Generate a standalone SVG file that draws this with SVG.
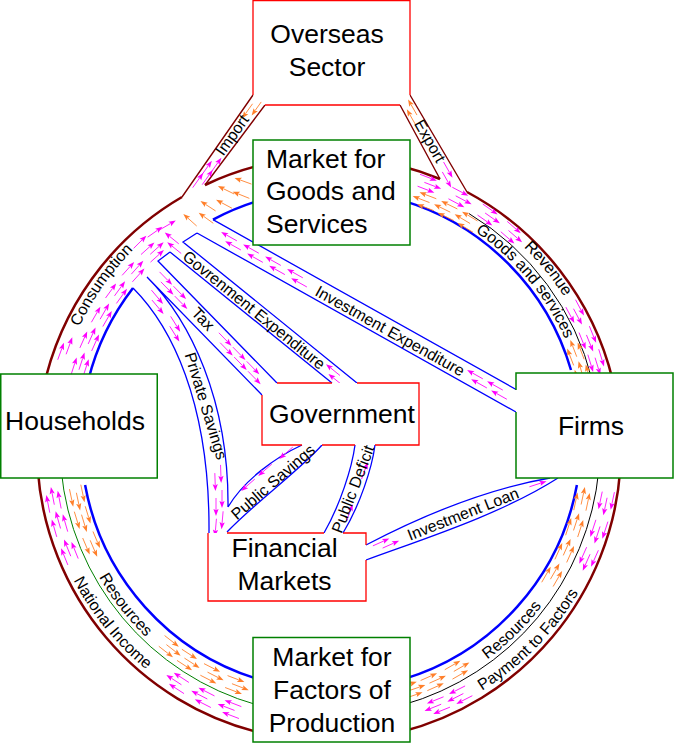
<svg xmlns="http://www.w3.org/2000/svg" xmlns:xlink="http://www.w3.org/1999/xlink" width="674" height="743" viewBox="0 0 674 743">
<style>
.nt{font-family:"Liberation Sans",Arial,sans-serif;font-size:26.5px;fill:#000}
.lb{font-family:"Liberation Sans",Arial,sans-serif;font-size:16px;fill:#000}
.wf{fill:#fff;stroke:none}
.gb{fill:#fff;stroke:#008000;stroke-width:1.5}
.rb{fill:none;stroke:#f00;stroke-width:1.3}
.mr{fill:none;stroke:#800000;stroke-width:2.5}
.mb{fill:none;stroke:#800000;stroke-width:1.4}
.br{fill:none;stroke:#00f;stroke-width:2.5}
.bb{fill:none;stroke:#00f;stroke-width:1.3}
.kl{fill:none;stroke:#000;stroke-width:1}
.gl{fill:none;stroke:#008000;stroke-width:1}
</style>
<defs>
<g id="m"><path d="M-9,0H3" stroke="#f0f" stroke-width=".8"/><path d="M9,0 2,-2.6 3.3,0 2,2.6z" fill="#f0f"/></g>
<g id="o"><path d="M-9,0H3" stroke="#ff7f2a" stroke-width=".8"/><path d="M9,0 2,-2.6 3.3,0 2,2.6z" fill="#ff7f2a"/></g>
<g id="mp"><use xlink:href="#m" x="-4" y="-3"/><use xlink:href="#m" x="4" y="3"/></g>
<g id="op"><use xlink:href="#o" x="-4" y="-3"/><use xlink:href="#o" x="4" y="3"/></g>
<g id="m3"><use xlink:href="#m" x="-4" y="-6"/><use xlink:href="#m" x="3"/><use xlink:href="#m" x="-2" y="6"/></g>
<g id="o3"><use xlink:href="#o" x="-4" y="-6"/><use xlink:href="#o" x="3"/><use xlink:href="#o" x="-2" y="6"/></g>
<path id="pC" d="M69.7,350.3A277,277 0 0 1 151.9,232.8"/>
<path id="pR" d="M508.1,232.8A277,277 0 0 1 574.6,314.9"/>
<path id="pG" d="M466.7,226.2A258,258 0 0 1 569.2,348.4"/>
<path id="pR2" d="M478.7,665.5A266,266 0 0 0 547.9,597.6"/>
<path id="pP" d="M465.7,700.2A289,289 0 0 0 587.5,576.2"/>
<path id="pR3" d="M95.1,569.9A266,266 0 0 0 152,642.7"/>
<path id="pN" d="M74,581.2A290,290 0 0 0 145.5,668.8"/>
</defs>
<g id="connectors">
<path class="mr" d="M43,390A292,292 0 0 1 182,197M205,185A292,292 0 0 1 260,165.3M400,165.8A292,292 0 0 1 440,179M467,192A292,292 0 0 1 612.7,380M620.2,470A292,292 0 0 1 400,732.2M260,732.7A292,292 0 0 1 37.8,470"/>
<path class="br" d="M88.3,380A250,250 0 0 1 133,288M213,219.6A250,250 0 0 1 260,200.3M403,200.6A250,250 0 0 1 571,370M576.9,485A250,250 0 0 1 403,679.4M260,679.7A250,250 0 0 1 85.1,485"/>
<path class="kl" d="M469,213.6A270,270 0 0 1 592.1,380M598.8,470A270,270 0 0 1 403,704.9"/>
<path class="gl" d="M257,704.9A270,270 0 0 1 61.2,470"/>
<path class="mb" d="M182,197L253,95M205,185L265,105M400,105L440,179M410,95L467,192"/>
<path class="bb" d="M213,219.6L517,390M197,233L516,412M197,233L183,242L357,383M170,252L332,383M170,252L158,261L277,383M147,277L262,395M133,288C170,325 210,400 209,533M147,277C190,320 229,400 228,507M302,445C276,457 244,480 228,507M322,445C300,470 258,500 227,532M355,445C352,468 340,505 324,533M375,445C372,468 360,505 343,533M366,545C410,522 480,490 550,478M366,560C420,540 500,515 558,478"/>
<g id="ring-arrows">
<use xlink:href="#m3" transform="rotate(291 330 445) translate(609 445) rotate(90)"/>
<use xlink:href="#m3" transform="rotate(298 330 445) translate(609 445) rotate(90)"/>
<use xlink:href="#m3" transform="rotate(305 330 445) translate(609 445) rotate(90)"/>
<use xlink:href="#m3" transform="rotate(311 330 445) translate(609 445) rotate(90)"/>
<use xlink:href="#m3" transform="rotate(332 330 445) translate(609 445) rotate(90)"/>
<use xlink:href="#m3" transform="rotate(338 330 445) translate(609 445) rotate(90)"/>
<use xlink:href="#m3" transform="rotate(343 330 445) translate(609 445) rotate(90)"/>
<use xlink:href="#o3" transform="rotate(291 330 445) translate(592 445) rotate(-90)"/>
<use xlink:href="#o3" transform="rotate(296 330 445) translate(592 445) rotate(-90)"/>
<use xlink:href="#o3" transform="rotate(301 330 445) translate(592 445) rotate(-90)"/>
<use xlink:href="#o3" transform="rotate(339 330 445) translate(592 445) rotate(-90)"/>
<use xlink:href="#o3" transform="rotate(344 330 445) translate(592 445) rotate(-90)"/>
<use xlink:href="#m3" transform="rotate(12 330 445) translate(612 445) rotate(90)"/>
<use xlink:href="#m3" transform="rotate(18 330 445) translate(612 445) rotate(90)"/>
<use xlink:href="#m3" transform="rotate(24 330 445) translate(612 445) rotate(90)"/>
<use xlink:href="#m3" transform="rotate(63 330 445) translate(612 445) rotate(90)"/>
<use xlink:href="#m3" transform="rotate(68 330 445) translate(612 445) rotate(90)"/>
<use xlink:href="#o3" transform="rotate(12 330 445) translate(588 445) rotate(-90)"/>
<use xlink:href="#o3" transform="rotate(18 330 445) translate(588 445) rotate(-90)"/>
<use xlink:href="#o3" transform="rotate(24 330 445) translate(588 445) rotate(-90)"/>
<use xlink:href="#o3" transform="rotate(30 330 445) translate(588 445) rotate(-90)"/>
<use xlink:href="#o3" transform="rotate(60 330 445) translate(588 445) rotate(-90)"/>
<use xlink:href="#o3" transform="rotate(66 330 445) translate(588 445) rotate(-90)"/>
<use xlink:href="#o3" transform="rotate(71 330 445) translate(588 445) rotate(-90)"/>
<use xlink:href="#m3" transform="rotate(111 330 445) translate(612 445) rotate(90)"/>
<use xlink:href="#m3" transform="rotate(117 330 445) translate(612 445) rotate(90)"/>
<use xlink:href="#m3" transform="rotate(123 330 445) translate(612 445) rotate(90)"/>
<use xlink:href="#m3" transform="rotate(158 330 445) translate(612 445) rotate(90)"/>
<use xlink:href="#m3" transform="rotate(164 330 445) translate(612 445) rotate(90)"/>
<use xlink:href="#m3" transform="rotate(169 330 445) translate(612 445) rotate(90)"/>
<use xlink:href="#o3" transform="rotate(111 330 445) translate(588 445) rotate(-90)"/>
<use xlink:href="#o3" transform="rotate(117 330 445) translate(588 445) rotate(-90)"/>
<use xlink:href="#o3" transform="rotate(123 330 445) translate(588 445) rotate(-90)"/>
<use xlink:href="#o3" transform="rotate(128 330 445) translate(588 445) rotate(-90)"/>
<use xlink:href="#o3" transform="rotate(157 330 445) translate(588 445) rotate(-90)"/>
<use xlink:href="#o3" transform="rotate(163 330 445) translate(588 445) rotate(-90)"/>
<use xlink:href="#o3" transform="rotate(168 330 445) translate(588 445) rotate(-90)"/>
<use xlink:href="#m3" transform="rotate(198 330 445) translate(592 445) rotate(90)"/>
<use xlink:href="#m3" transform="rotate(204 330 445) translate(592 445) rotate(90)"/>
<use xlink:href="#m3" transform="rotate(210 330 445) translate(592 445) rotate(90)"/>
<use xlink:href="#m3" transform="rotate(216 330 445) translate(592 445) rotate(90)"/>
<use xlink:href="#m3" transform="rotate(222 330 445) translate(592 445) rotate(90)"/>
<use xlink:href="#m3" transform="rotate(228 330 445) translate(592 445) rotate(90)"/>
<use xlink:href="#mp" transform="rotate(200 330 445) translate(612 445) rotate(90)"/>
</g>
<g id="junction-arrows">
<use xlink:href="#o" transform="translate(243 181) rotate(200)"/>
<use xlink:href="#o" transform="translate(241 195) rotate(202)"/>
<use xlink:href="#o" transform="translate(226 190) rotate(206)"/>
<use xlink:href="#o" transform="translate(224 204) rotate(208)"/>
<use xlink:href="#o" transform="translate(208 206) rotate(213)"/>
<use xlink:href="#o" transform="translate(206 218) rotate(216)"/>
<use xlink:href="#o" transform="translate(190 220) rotate(222)"/>
<use xlink:href="#m" transform="translate(140 242) rotate(-45)"/>
<use xlink:href="#m" transform="translate(155 232) rotate(-35)"/>
<use xlink:href="#m" transform="translate(168 225) rotate(-30)"/>
</g>
<g id="band-arrows">
<use xlink:href="#mp" transform="translate(202.7 178.8) rotate(-54.5)"/>
<use xlink:href="#mp" transform="translate(211.4 166.6) rotate(-54.5)"/>
<use xlink:href="#op" transform="translate(252.1 109.6) rotate(125.5)"/>
<use xlink:href="#op" transform="translate(411.9 112.2) rotate(240.4)"/>
<use xlink:href="#mp" transform="translate(447.4 174.8) rotate(60.4)"/>
<use xlink:href="#mp" transform="translate(231 241) rotate(209.3)"/>
<use xlink:href="#mp" transform="translate(253 253.4) rotate(209.3)"/>
<use xlink:href="#mp" transform="translate(275 265.6) rotate(209.3)"/>
<use xlink:href="#mp" transform="translate(297 278) rotate(209.3)"/>
<use xlink:href="#mp" transform="translate(477 379) rotate(209.3)"/>
<use xlink:href="#mp" transform="translate(497 390.3) rotate(209.3)"/>
<use xlink:href="#mp" transform="translate(334.2 374.7) rotate(219)"/>
<use xlink:href="#mp" transform="translate(173 243) rotate(219)"/>
<use xlink:href="#mp" transform="translate(166.5 283.3) rotate(45.7)"/>
<use xlink:href="#mp" transform="translate(180.4 297.6) rotate(45.7)"/>
<use xlink:href="#mp" transform="translate(225.8 344.2) rotate(45.7)"/>
<use xlink:href="#mp" transform="translate(239.8 358.5) rotate(45.7)"/>
<use xlink:href="#mp" transform="translate(253.7 372.8) rotate(45.7)"/>
<use xlink:href="#mp" transform="translate(157.5 302) rotate(50)"/>
<use xlink:href="#mp" transform="translate(175 329) rotate(58)"/>
<use xlink:href="#mp" transform="translate(218 478) rotate(88)"/>
<use xlink:href="#mp" transform="translate(219 503) rotate(90)"/>
<use xlink:href="#mp" transform="translate(219 524) rotate(95)"/>
<use xlink:href="#m" transform="translate(265 470) rotate(139)"/>
<use xlink:href="#m" transform="translate(286 453) rotate(139)"/>
<use xlink:href="#m" transform="translate(248 485) rotate(139)"/>
<use xlink:href="#m" transform="translate(364.6 470.7) rotate(-70)"/>
<use xlink:href="#m" transform="translate(349.6 512.6) rotate(-70)"/>
<use xlink:href="#mp" transform="translate(386 543.3) rotate(-24)"/>
<use xlink:href="#m" transform="translate(538 484) rotate(-18)"/>
</g>
<g id="connector-labels" class="lb">
<text text-anchor="middle" transform="translate(232 135) rotate(-54.5)" y="5.5">Import</text>
<text text-anchor="middle" transform="translate(430 141) rotate(60.4)" y="5.5">Export</text>
<text text-anchor="middle" transform="translate(390 331) rotate(29.2)" y="5.5">Investment Expenditure</text>
<text text-anchor="middle" transform="translate(254 310) rotate(39)" y="5.5">Govrenment Expenditure</text>
<text text-anchor="middle" transform="translate(203 319) rotate(46)" y="5.5">Tax</text>
<text text-anchor="middle" transform="translate(206 406) rotate(73)" y="5.5">Private Savings</text>
<text text-anchor="middle" transform="translate(273 482) rotate(-41)" y="5.5">Public Savings</text>
<text text-anchor="middle" transform="translate(353 489) rotate(-69)" y="5.5">Public Deficit</text>
<text text-anchor="middle" transform="translate(463 514) rotate(-21.5)" y="5.5">Investment Loan</text>
<text><textPath xlink:href="#pC" startOffset="50%" text-anchor="middle">Consumption</textPath></text>
<text><textPath xlink:href="#pR" startOffset="50%" text-anchor="middle">Revenue</textPath></text>
<text><textPath xlink:href="#pG" startOffset="50%" text-anchor="middle">Goods and services</textPath></text>
<text><textPath xlink:href="#pR2" startOffset="50%" text-anchor="middle">Resources</textPath></text>
<text><textPath xlink:href="#pP" startOffset="50%" text-anchor="middle">Payment to Factors</textPath></text>
<text><textPath xlink:href="#pR3" startOffset="50%" text-anchor="middle">Resources</textPath></text>
<text><textPath xlink:href="#pN" startOffset="50%" text-anchor="middle">National Income</textPath></text>
</g>
</g>
<g id="overseas-sector">
<path class="wf" d="M253,0H410V95L400,105H265L253,95Z"/>
<path class="rb" d="M253,95V0.7H410V95M265,105H400"/>
<text class="nt" text-anchor="middle"><tspan x="327" y="43">Overseas</tspan><tspan x="327" y="76">Sector</tspan></text>
</g>
<g id="goods-market">
<rect class="gb" x="253" y="140" width="157" height="105"/>
<text class="nt"><tspan x="266" y="167.5">Market for</tspan><tspan x="266" y="200">Goods and</tspan><tspan x="266" y="233">Services</tspan></text>
</g>
<g id="households">
<rect class="gb" x="0.75" y="374" width="156.5" height="104"/>
<text class="nt" x="75" y="430" text-anchor="middle">Households</text>
</g>
<g id="firms">
<rect class="wf" x="516" y="373" width="157" height="105"/>
<path d="M516,390V373H673V478H516V412" fill="none" stroke="#008000" stroke-width="1.5"/>
<text class="nt" x="591" y="435" text-anchor="middle">Firms</text>
</g>
<g id="government">
<path class="wf" d="M277,383H419V445H262V395Z"/>
<path class="rb" d="M277,383H332M357,383H419V445H375M355,445H322M302,445H262V395"/>
<text class="nt" x="342" y="423" text-anchor="middle">Government</text>
</g>
<g id="financial-markets">
<rect class="wf" x="208" y="533" width="158" height="68"/>
<path class="rb" d="M227,533H324M343,533H366V545M366,560V601H208V533"/>
<text class="nt" text-anchor="middle"><tspan x="284.5" y="557">Financial</tspan><tspan x="284.5" y="590">Markets</tspan></text>
</g>
<g id="factors-market">
<rect class="gb" x="253" y="637.5" width="157" height="104.5"/>
<text class="nt" text-anchor="middle"><tspan x="332" y="666">Market for</tspan><tspan x="332" y="699">Factors of</tspan><tspan x="332" y="732">Production</tspan></text>
</g>
</svg>
